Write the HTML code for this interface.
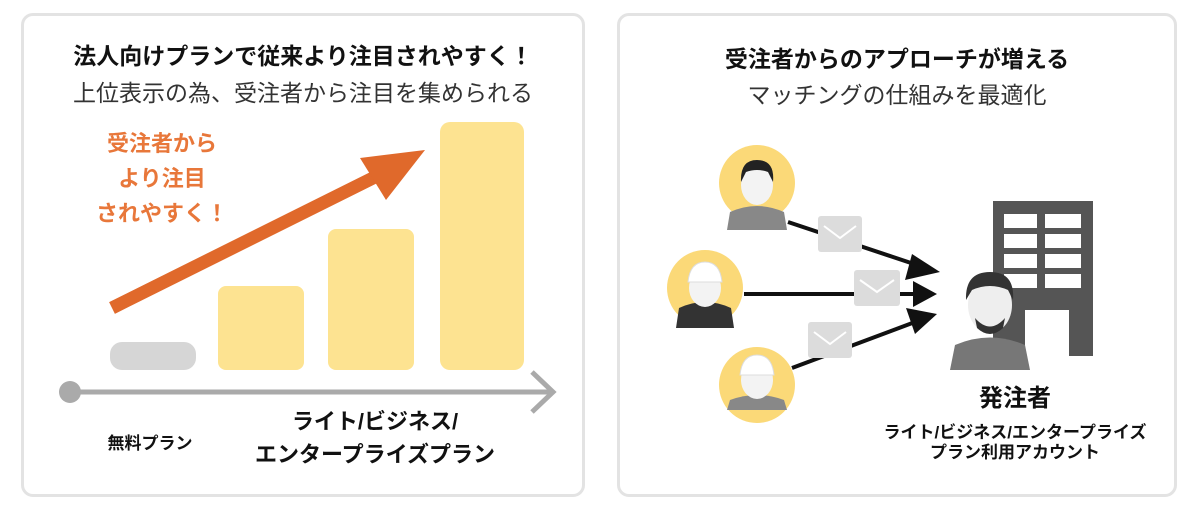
<!DOCTYPE html>
<html><head><meta charset="utf-8"><style>
body{margin:0;width:1200px;height:520px;background:#fff;font-family:"Liberation Sans","Noto Sans CJK JP",sans-serif;position:relative;overflow:hidden}
.p{position:absolute;border:3px solid #e3e3e3;border-radius:12px;box-sizing:border-box;background:#fff}
.t{position:absolute;white-space:nowrap;text-align:center}
</style></head><body>
<div class="p" style="left:21px;top:13px;width:564px;height:484px"></div>
<div class="p" style="left:617px;top:13px;width:560px;height:484px"></div>
<div class="t" style="left:22px;width:562px;top:37px;font-size:23px;font-weight:bold;color:#111">法人向けプランで従来より注目されやすく！</div>
<div class="t" style="left:22px;width:562px;top:74px;font-size:23px;color:#333">上位表示の為、受注者から注目を集められる</div>
<div class="t" style="left:72px;width:180px;top:126px;font-size:22px;font-weight:bold;color:#e8773a;line-height:35px">受注者から<br>より注目<br>されやすく！</div>
<svg width="1200" height="520" style="position:absolute;left:0;top:0">
<rect x="110" y="342" width="86" height="28" rx="12" fill="#d6d6d6"/>
<rect x="218" y="286" width="86" height="84" rx="8" fill="#fde391"/>
<rect x="328" y="229" width="86" height="141" rx="8" fill="#fde391"/>
<rect x="440" y="122" width="84" height="248" rx="10" fill="#fde391"/>
<line x1="112" y1="308" x2="385" y2="172" stroke="#e0692b" stroke-width="13"/>
<polygon points="425,150 360,158 386,200" fill="#e0692b"/>
<circle cx="70" cy="392" r="11" fill="#aaa"/>
<line x1="70" y1="392" x2="552" y2="392" stroke="#aaa" stroke-width="5"/>
<polyline points="532,372 553,392 532,412" fill="none" stroke="#aaa" stroke-width="5"/>
<rect x="993" y="201" width="100" height="155" fill="#555"/>
<g fill="#fff">
<rect x="1004" y="214" width="33" height="14"/><rect x="1045" y="214" width="36" height="14"/>
<rect x="1004" y="234" width="33" height="14"/><rect x="1045" y="234" width="36" height="14"/>
<rect x="1004" y="254" width="33" height="14"/><rect x="1045" y="254" width="36" height="14"/>
<rect x="1004" y="274" width="33" height="14"/><rect x="1045" y="274" width="36" height="14"/>
<rect x="1025" y="310" width="44" height="46"/>
</g>
<path d="M950 370 L955 345 Q990 330 1025 345 L1030 370 Z" fill="#777"/>
<ellipse cx="990" cy="305" rx="22" ry="28" fill="#eee"/>
<path d="M966 300 Q965 272 990 272 Q1015 272 1013 300 L1008 290 Q990 282 972 290 Z" fill="#333"/>
<path d="M975 318 Q990 335 1005 318 L1003 328 Q990 340 977 328Z" fill="#333"/>
<g>
<circle cx="757" cy="183" r="38" fill="#fbd978"/>
<path d="M727 230 L730 212 Q757 200 784 212 L787 230 Z" fill="#888"/>
<ellipse cx="757" cy="185" rx="16" ry="20" fill="#f3f3f3"/>
<path d="M741 182 Q740 160 757 160 Q775 160 773 182 L768 172 Q757 168 746 172Z" fill="#222"/>
<circle cx="705" cy="288" r="38" fill="#fbd978"/>
<path d="M676 328 L679 308 Q705 296 731 308 L734 328 Z" fill="#333"/>
<ellipse cx="705" cy="288" rx="16" ry="19" fill="#f3f3f3"/>
<path d="M688 282 Q690 262 705 262 Q720 262 722 282Z" fill="#fff" stroke="#ddd"/>
<circle cx="757" cy="385" r="38" fill="#fbd978"/>
<path d="M727 410 L730 400 Q757 390 784 400 L787 410 Z" fill="#888"/>
<ellipse cx="757" cy="380" rx="16" ry="19" fill="#f3f3f3"/>
<path d="M740 375 Q742 355 757 355 Q772 355 774 375Z" fill="#fff" stroke="#ddd"/>
</g>
<g stroke="#111" stroke-width="4">
<line x1="788" y1="222" x2="920" y2="266"/>
<line x1="744" y1="294" x2="915" y2="294"/>
<line x1="792" y1="368" x2="915" y2="322"/>
</g>
<g fill="#111">
<polygon points="940,272 912,254 905,280"/>
<polygon points="937,294 913,281 913,307"/>
<polygon points="937,314 906,308 915,334"/>
</g>
<g fill="#dcdcdc">
<rect x="818" y="216" width="44" height="36" rx="3"/>
<rect x="854" y="270" width="46" height="36" rx="3"/>
<rect x="808" y="322" width="44" height="36" rx="3"/>
</g>
<g fill="none" stroke="#fff" stroke-width="2">
<polyline points="824,226 840,238 856,226"/>
<polyline points="860,280 877,292 894,280"/>
<polyline points="814,332 830,344 846,332"/>
</g>
</svg>
<div class="t" style="left:60px;width:180px;top:429px;font-size:17px;font-weight:bold;color:#111">無料プラン</div>
<div class="t" style="left:220px;width:310px;top:405px;font-size:22px;font-weight:bold;color:#111;line-height:33px">ライト/ビジネス/<br>エンタープライズプラン</div>
<div class="t" style="left:619px;width:556px;top:40px;font-size:23px;font-weight:bold;color:#111">受注者からのアプローチが増える</div>
<div class="t" style="left:619px;width:556px;top:76px;font-size:23px;color:#333">マッチングの仕組みを最適化</div>
<div class="t" style="left:915px;width:200px;top:378px;font-size:24px;font-weight:bold;color:#111">発注者</div>
<div class="t" style="left:855px;width:320px;top:423px;font-size:17px;font-weight:bold;color:#111;line-height:20px">ライト/ビジネス/エンタープライズ<br>プラン利用アカウント</div>
</body></html>
